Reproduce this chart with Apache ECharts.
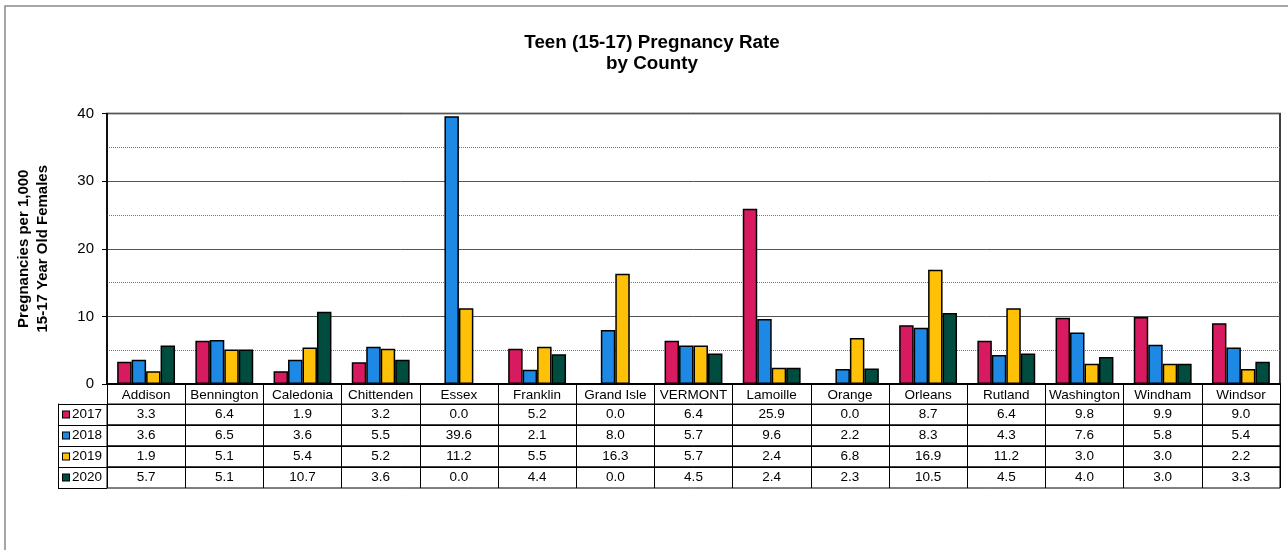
<!DOCTYPE html>
<html><head><meta charset="utf-8">
<script src="https://cdn.jsdelivr.net/npm/echarts@6/dist/echarts.min.js"></script>
<style>html,body{margin:0;padding:0;background:#fff}#c{width:1288px;height:550px}</style>
</head><body><div id="c"></div>
<script>
const categories = ['Addison','Bennington','Caledonia','Chittenden','Essex','Franklin','Grand Isle','VERMONT','Lamoille','Orange','Orleans','Rutland','Washington','Windham','Windsor'];
const years = ['2017','2018','2019','2020'];
const v2017 = [3.3, 6.4, 1.9, 3.2, 0.0, 5.2, 0.0, 6.4, 25.9, 0.0, 8.7, 6.4, 9.8, 9.9, 9.0];
const v2018 = [3.6, 6.5, 3.6, 5.5, 39.6, 2.1, 8.0, 5.7, 9.6, 2.2, 8.3, 4.3, 7.6, 5.8, 5.4];
const v2019 = [1.9, 5.1, 5.4, 5.2, 11.2, 5.5, 16.3, 5.7, 2.4, 6.8, 16.9, 11.2, 3.0, 3.0, 2.2];
const v2020 = [5.7, 5.1, 10.7, 3.6, 0.0, 4.4, 0.0, 4.5, 2.4, 2.3, 10.5, 4.5, 4.0, 3.0, 3.3];
const seriesValues = [v2017, v2018, v2019, v2020];
const colors = ['#D81B60', '#1E88E5', '#FFC107', '#004D40'];
const yMin = 0, yMax = 40, yInterval = 10;

const FONT = '"Liberation Sans", Arial, sans-serif';
const GL = 107, GR = 8, ROW_TOP = 404, ROW_H = 21, LEG_W = 49;

const grids = [{left: GL, right: GR, top: 113.5, height: 270.5, show: true, borderColor: '#000', borderWidth: 1.5}];
const xAxes = [{
  type: 'category', gridIndex: 0, data: categories, position: 'bottom',
  axisLine: {lineStyle: {color: '#000', width: 2}},
  axisTick: {show: true, interval: 0, length: 20, lineStyle: {color: '#000', width: 1}},
  axisLabel: {interval: 0, margin: 4, color: '#000', fontSize: 13.5, fontFamily: FONT},
  splitLine: {show: false}
}];
const yAxes = [{
  type: 'value', gridIndex: 0, min: yMin, max: yMax, interval: yInterval,
  name: 'Pregnancies per 1,000\n15-17 Year Old Females', nameLocation: 'middle', nameGap: 55, nameRotate: 90,
  nameTextStyle: {fontSize: 15, fontWeight: 'bold', lineHeight: 19, color: '#000', fontFamily: FONT},
  axisLine: {show: true, lineStyle: {color: '#000', width: 1.5}},
  axisTick: {show: true, length: 5, lineStyle: {color: '#000'}},
  axisLabel: {margin: 13, fontSize: 15, color: '#000', fontFamily: FONT},
  splitLine: {show: true, lineStyle: {color: '#555', width: 1}},
  minorTick: {show: false, splitNumber: 2},
  minorSplitLine: {show: true, lineStyle: {color: '#777', width: 1, type: [1, 1]}}
}];

years.forEach((yr, i) => {
  grids.push({left: GL, right: GR, top: ROW_TOP + ROW_H * i, height: ROW_H, show: true, borderColor: '#000', borderWidth: 1});
  xAxes.push({
    type: 'category', gridIndex: i + 1, data: categories, position: 'top',
    axisLine: {show: true, lineStyle: {color: '#000', width: 1}},
    axisTick: {show: true, inside: true, interval: 0, length: ROW_H, lineStyle: {color: '#000', width: 1}},
    axisLabel: {inside: true, interval: 0, margin: ROW_H / 2, verticalAlign: 'middle', color: '#000', fontSize: 13.5, fontFamily: FONT,
      formatter: (v, idx) => seriesValues[i][idx].toFixed(1)},
    splitLine: {show: false}
  });
  const rich = {t: {fontSize: 13.5, fontFamily: FONT, color: '#000', padding: [0, 0, 0, 3]}};
  rich['s' + i] = {width: 6, height: 6, backgroundColor: colors[i], borderColor: '#000', borderWidth: 1};
  yAxes.push({
    type: 'category', gridIndex: i + 1, data: [yr], position: 'left', offset: LEG_W,
    axisLine: {show: true, lineStyle: {color: '#000', width: 1}},
    axisTick: {show: true, inside: true, length: LEG_W, alignWithLabel: false, lineStyle: {color: '#000', width: 1}},
    axisLabel: {inside: true, margin: 5, align: 'left', formatter: '{s' + i + '| }{t|' + yr + '}', rich: rich},
    splitLine: {show: false}
  });
});

const series = years.map((yr, i) => ({
  type: 'bar', name: yr, xAxisIndex: 0, yAxisIndex: 0, data: seriesValues[i],
  barGap: '0%', barCategoryGap: '26%',
  itemStyle: {color: colors[i], borderColor: '#000', borderWidth: 1.5}
}));

const chart = echarts.init(document.getElementById('c'), null, {renderer: 'canvas'});
chart.setOption({
  animation: false,
  backgroundColor: '#fff',
  title: {
    text: 'Teen (15-17) Pregnancy Rate\nby County', left: 647, top: 27, textAlign: 'center',
    textStyle: {fontSize: 18.8, fontWeight: 'bold', lineHeight: 21, color: '#000', fontFamily: FONT}
  },
  graphic: [{type: 'rect', shape: {x: 5, y: 6, width: 1300, height: 600}, style: {fill: 'none', stroke: '#888', lineWidth: 1.5}, silent: true, z: -1}],
  grid: grids,
  xAxis: xAxes,
  yAxis: yAxes,
  series: series
});
</script></body></html>
